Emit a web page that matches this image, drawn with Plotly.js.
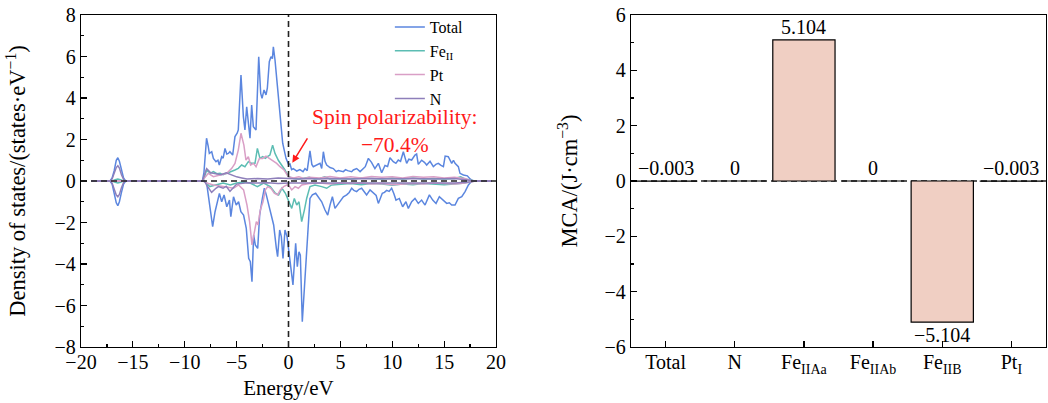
<!DOCTYPE html>
<html>
<head>
<meta charset="utf-8">
<script src="https://cdn.plot.ly/plotly-3.0.1.min.js"></script>
<style>html,body{margin:0;padding:0;background:#fff;}#chart{width:1048px;height:403px;}</style>
</head>
<body>
<div id="chart"></div>
<script>
// ---------- DOS data: [energy (eV), DOS (states/eV)] ----------
const totalUp = [[-19,0],[-17.2,0],[-17.0,0.15],[-16.8,0.5],[-16.6,1.0],[-16.45,1.12],[-16.3,0.95],[-16.1,0.5],[-15.9,0.15],[-15.7,0],
[-8.3,0],[-8.15,0.4],[-7.9,2.06],[-7.75,1.7],[-7.63,1.33],[-7.4,1.41],[-7.24,1.09],[-6.99,0.93],[-6.8,1.0],[-6.67,0.77],[-6.44,1.17],[-6.3,1.1],[-6.12,1.57],[-5.95,1.3],[-5.8,1.33],[-5.65,1.41],[-5.38,1.25],[-5.16,2.14],[-4.95,2.3],[-4.84,2.46],[-4.58,5.11],[-4.35,3.1],[-4.2,2.46],[-4.03,3.58],[-3.87,2.7],[-3.71,2.06],[-3.55,3.66],[-3.39,2.62],[-3.13,2.46],[-2.87,5.99],[-2.68,4.22],[-2.55,3.98],[-2.36,4.39],[-2.17,4.15],[-2.04,4.47],[-1.85,5.75],[-1.69,5.99],[-1.55,5.9],[-1.46,6.47],[-1.3,5.83],[-1.08,4.63],[-0.82,3.02],[-0.56,1.82],[-0.24,1.09],[0.0,0.8],[0.14,0.82],[0.3,0.55],[0.46,0.6],[0.8,0.48],[1.1,0.55],[1.4,0.45],[1.59,0.6],[1.8,0.5],[2.07,1.45],[2.25,0.8],[2.39,0.69],[2.7,0.75],[3.04,0.85],[3.2,0.6],[3.36,1.41],[3.52,0.95],[3.68,0.77],[4.0,0.65],[4.32,0.6],[4.6,0.45],[4.8,0.5],[5.29,0.45],[5.5,0.55],[5.7,0.5],[6.09,0.45],[6.25,0.53],[6.57,0.6],[6.9,0.45],[7.22,0.6],[7.4,0.69],[7.7,1.09],[8.0,0.9],[8.33,0.6],[8.66,0.85],[8.98,0.4],[9.3,0.75],[9.55,0.7],[9.78,1.12],[10.1,0.93],[10.35,0.85],[10.58,1.01],[10.8,0.95],[11.07,1.41],[11.39,0.85],[11.6,1.05],[11.87,1.01],[12.19,1.25],[12.35,1.3],[12.51,0.8],[12.83,1.0],[13.1,0.9],[13.32,0.77],[13.64,0.95],[13.96,0.69],[14.2,0.8],[14.44,0.85],[14.7,0.75],[14.93,0.69],[15.1,1.2],[15.4,1.17],[15.73,0.85],[15.9,1.0],[16.05,0.85],[16.21,0.77],[16.37,0.69],[16.53,0.37],[16.86,0.29],[17.24,0.25],[17.5,0.1],[17.8,0],[19.6,0]];

const totalDown = [[-19,0],[-17.2,0],[-17.0,-0.15],[-16.8,-0.55],[-16.6,-1.05],[-16.45,-1.19],[-16.3,-1.0],[-16.1,-0.55],[-15.9,-0.15],[-15.7,0],
[-8.1,0],[-7.89,-0.1],[-7.63,-1.16],[-7.31,-2.2],[-7.08,-1.48],[-6.85,-1.0],[-6.66,-0.6],[-6.44,-1.0],[-6.21,-0.67],[-5.95,-1.24],[-5.69,-0.92],[-5.56,-1.72],[-5.3,-0.76],[-5.04,-1.16],[-4.81,-1.0],[-4.59,-1.48],[-4.33,-1.64],[-4.07,-2.28],[-3.84,-3.73],[-3.68,-3.89],[-3.52,-4.85],[-3.36,-2.6],[-3.2,-3.08],[-2.97,-3.25],[-2.78,-1.64],[-2.52,-0.84],[-2.33,-0.35],[-2.14,-0.67],[-1.91,-1.16],[-1.69,-1.48],[-1.43,-2.12],[-1.17,-3.25],[-1.05,-3.65],[-0.85,-2.36],[-0.69,-2.68],[-0.53,-3.73],[-0.34,-2.36],[-0.14,-2.68],[0.02,-3.3],[0.24,-4.21],[0.43,-5.01],[0.69,-3.0],[0.85,-4.13],[1.01,-3.41],[1.14,-3.57],[1.33,-6.78],[1.59,-4.37],[1.85,-2.6],[2.07,-0.84],[2.3,-0.67],[2.62,-0.59],[2.87,-0.76],[3.2,-1.0],[3.52,-1.4],[3.78,-1.64],[4.0,-1.16],[4.23,-0.76],[4.48,-1.32],[4.8,-1.08],[5.05,-0.9],[5.29,-0.76],[5.61,-0.67],[5.85,-0.55],[6.09,-0.35],[6.3,-0.45],[6.57,-0.51],[6.8,-0.4],[7.05,-0.35],[7.3,-0.5],[7.53,-0.67],[7.86,-0.43],[8.18,-0.59],[8.45,-0.7],[8.66,-1.08],[9.04,-0.59],[9.25,-0.55],[9.46,-0.45],[9.7,-0.5],[9.94,-0.35],[10.15,-0.6],[10.36,-0.92],[10.68,-0.84],[11.0,-1.24],[11.32,-1.0],[11.55,-1.32],[11.87,-1.0],[12.19,-0.84],[12.51,-1.08],[12.83,-0.92],[13.16,-1.16],[13.35,-0.9],[13.58,-0.67],[13.9,-0.92],[14.22,-1.08],[14.54,-0.76],[14.86,-0.92],[15.25,-1.08],[15.5,-1.05],[15.73,-1.16],[16.05,-1.16],[16.37,-0.84],[16.7,-0.76],[17.02,-0.51],[17.34,-0.19],[17.66,0],[19.6,0]];

const feUp = [[-19,0],[-17.0,0],[-16.7,0.06],[-16.45,0.1],[-16.2,0.06],[-15.9,0],[-8.3,0],[-8.15,0.1],[-7.89,0.53],[-7.57,0.37],[-7.24,0.45],[-6.9,0.35],[-6.6,0.37],[-6.3,0.3],[-5.95,0.37],[-5.47,0.45],[-5.16,0.53],[-4.84,0.61],[-4.52,0.77],[-4.2,0.69],[-3.87,0.93],[-3.55,0.85],[-3.23,0.85],[-3.0,1.57],[-2.75,1.09],[-2.49,1.17],[-2.23,1.09],[-2.04,1.17],[-1.79,1.25],[-1.53,1.73],[-1.3,1.33],[-0.98,1.0],[-0.66,0.77],[-0.34,0.53],[-0.02,0.21],[0.5,0.12],[1.0,0.1],[1.5,0.15],[2.0,0.18],[2.5,0.1],[3.0,0.12],[3.5,0.2],[4,0.1],[5,0.12],[6,0.1],[7,0.15],[8,0.12],[9,0.1],[10,0.14],[11,0.1],[12,0.15],[13,0.1],[14,0.12],[15,0.1],[16,0.12],[16.6,0.2],[17,0.1],[17.6,0.02],[18,0],[19.6,0]];

const feDown = [[-19,0],[-17,0],[-16.7,-0.06],[-16.45,-0.1],[-16.2,-0.06],[-15.9,0],[-8.2,0],[-7.89,-0.1],[-7.6,-0.27],[-6.9,-0.19],[-6.3,-0.1],[-5.6,-0.19],[-5.0,-0.1],[-4.3,-0.05],[-3.7,-0.1],[-3.0,-0.27],[-2.4,-0.1],[-1.75,-0.27],[-1.27,-0.59],[-0.95,-0.67],[-0.63,-0.35],[-0.3,-0.59],[0.0,-0.92],[0.31,-1.32],[0.56,-0.84],[0.79,-1.16],[1.01,-1.0],[1.27,-1.96],[1.53,-1.4],[1.75,-0.84],[2.07,-0.27],[2.55,-0.19],[3.2,-0.27],[3.68,-0.35],[4.16,-0.19],[5,-0.15],[6,-0.12],[7,-0.18],[8,-0.12],[9,-0.15],[10,-0.2],[11,-0.15],[12,-0.18],[13,-0.12],[14,-0.15],[15,-0.18],[16,-0.15],[17,-0.1],[17.6,-0.02],[18,0],[19.6,0]];

const ptUp = [[-19,0],[-8.3,0],[-8.2,0.08],[-7.73,0.37],[-7.24,0.21],[-6.6,0.29],[-5.95,0.37],[-5.47,0.61],[-5.16,0.85],[-4.84,1.49],[-4.58,2.3],[-4.3,1.73],[-4.1,1.01],[-3.87,1.17],[-3.65,0.77],[-3.39,0.85],[-3.13,0.69],[-2.81,1.09],[-2.49,1.09],[-2.17,1.2],[-1.85,1.09],[-1.53,1.01],[-1.14,0.85],[-0.82,0.69],[-0.43,0.53],[-0.02,0.21],[0.5,0.15],[1,0.2],[1.5,0.12],[2,0.18],[3,0.15],[4,0.22],[5,0.15],[6,0.2],[7,0.15],[8,0.22],[9,0.18],[10,0.2],[11,0.15],[12,0.22],[13,0.18],[14,0.2],[15,0.15],[16,0.18],[17,0.12],[17.6,0.02],[18,0],[19.6,0]];

const ptDown = [[-19,0],[-8.2,0],[-7.89,-0.1],[-7.24,-0.19],[-6.3,-0.27],[-5.3,-0.35],[-4.81,-0.19],[-4.33,-0.43],[-4.0,-1.16],[-3.75,-1.96],[-3.52,-3.08],[-3.36,-2.6],[-3.1,-1.96],[-2.94,-2.12],[-2.72,-1.4],[-2.46,-1.0],[-2.23,-0.43],[-2.0,-0.27],[-1.69,-0.35],[-1.37,-0.59],[-1.05,-0.67],[-0.79,-0.43],[-0.47,-0.27],[-0.14,-0.19],[0.1,-0.27],[0.31,-0.43],[0.63,-0.27],[0.95,-0.35],[1.27,-0.19],[2,-0.12],[3,-0.1],[4,-0.15],[5,-0.1],[6,-0.12],[7,-0.1],[8,-0.15],[9,-0.12],[10,-0.18],[11,-0.15],[12,-0.12],[13,-0.15],[14,-0.1],[15,-0.12],[16,-0.15],[17,-0.1],[17.6,-0.02],[18,0],[19.6,0]];

const nUp = [[-19,0],[-17.2,0],[-17.0,0.1],[-16.8,0.35],[-16.6,0.65],[-16.45,0.74],[-16.3,0.62],[-16.1,0.3],[-15.9,0.08],[-15.7,0],[-8.3,0],[-8.1,0.3],[-7.89,0.6],[-7.5,0.4],[-7.0,0.35],[-6.5,0.3],[-6.0,0.4],[-5.5,0.3],[-5.0,0.2],[-4.5,0.15],[-4,0.1],[-3,0.12],[-2,0.1],[-1,0.15],[0,0.12],[1,0.1],[2,0.12],[3,0.1],[4,0.12],[6,0.1],[8,0.12],[10,0.1],[12,0.12],[14,0.1],[16,0.12],[17.5,0.05],[18,0],[19.6,0]];

const nDown = [[-19,0],[-17.2,0],[-17.0,-0.1],[-16.8,-0.38],[-16.6,-0.68],[-16.45,-0.76],[-16.3,-0.65],[-16.1,-0.32],[-15.9,-0.08],[-15.7,0],[-8.1,0],[-7.89,-0.2],[-7.41,-0.55],[-7.0,-0.35],[-6.75,-0.27],[-6.3,-0.35],[-6.0,-0.25],[-5.64,-0.5],[-5.3,-0.3],[-5.0,-0.15],[-4,-0.08],[-3,-0.1],[-2,-0.08],[-1,-0.12],[0,-0.1],[1,-0.1],[2,-0.08],[4,-0.1],[6,-0.08],[8,-0.1],[10,-0.08],[12,-0.1],[14,-0.08],[16,-0.1],[17.5,-0.05],[18,0],[19.6,0]];

// ---------- MCA data ----------
const mcaCategories = ["Total", "N", "Fe<sub>IIAa</sub>", "Fe<sub>IIAb</sub>", "Fe<sub>IIB</sub>", "Pt<sub>I</sub>"];
const mcaValues = [-0.003, 0, 5.104, 0, -5.104, -0.003];
const mcaLabels = ["\u22120.003", "0", "5.104", "0", "\u22125.104", "\u22120.003"];

// ---------- styles ----------
const FONT = "Liberation Serif, Times New Roman, serif";
const colors = {total: "#5b86df", fe: "#5cbdb3", pt: "#d99fc6", n: "#8e7fba"};

function line(series, name, color, show) {
  return {
    x: series.map(p => p[0]), y: series.map(p => p[1]),
    type: "scatter", mode: "lines", name: name, legendgroup: name,
    showlegend: show, line: {color: color, width: 1.5},
    xaxis: "x", yaxis: "y", hoverinfo: "skip"
  };
}

const traces = [
  line(totalUp, "Total", colors.total, true),
  line(totalDown, "Total", colors.total, false),
  line(feUp, "Fe<sub>II</sub>", colors.fe, true),
  line(feDown, "Fe<sub>II</sub>", colors.fe, false),
  line(ptUp, "Pt", colors.pt, true),
  line(ptDown, "Pt", colors.pt, false),
  line(nUp, "N", colors.n, true),
  line(nDown, "N", colors.n, false),
  {
    x: mcaCategories.map((c, i) => i), y: mcaValues, type: "bar",
    xaxis: "x2", yaxis: "y2", showlegend: false, width: 0.9,
    marker: {color: "#f0cfc3", line: {color: "#000", width: 1.2}}, hoverinfo: "skip"
  }
];

const axisCommon = {
  showline: true, linecolor: "#000", linewidth: 1.3, mirror: true,
  ticks: "inside", ticklen: 6, tickwidth: 1.2, tickcolor: "#000",
  showgrid: false, zeroline: false, automargin: false,
  tickfont: {family: FONT, size: 20, color: "#000"}
};

const annotations = mcaValues.map((v, i) => ({
  x: i, y: v > 0.5 ? v : (v < -0.5 ? v : 0), xref: "x2", yref: "y2",
  text: mcaLabels[i], showarrow: false,
  yanchor: v < -0.5 ? "top" : "bottom",
  font: {family: FONT, size: 20, color: "#000"}
}));
annotations.push({
  x: 10.2, y: 2.4, xref: "x", yref: "y",
  text: "Spin polarizability:<br>\u221270.4%", showarrow: false, align: "center",
  font: {family: FONT, size: 21.5, color: "#ff1a1a"}
});
annotations.push({
  x: 0.37, y: 0.88, xref: "x", yref: "y", ax: 1.91, ay: 2.13, axref: "x", ayref: "y",
  text: "", showarrow: true, arrowhead: 2, arrowsize: 1, arrowwidth: 1.5, arrowcolor: "#ff1a1a"
});

const layout = {
  width: 1048, height: 403,
  margin: {l: 0, r: 0, t: 0, b: 0},
  paper_bgcolor: "#fff", plot_bgcolor: "#fff",
  font: {family: FONT, size: 20, color: "#000"},
  xaxis: Object.assign({}, axisCommon, {
    anchor: "y",
    domain: [81/1048, 496/1048], range: [-20, 20], dtick: 5, tick0: 0,
    minor: {dtick: 2.5, ticks: "inside", ticklen: 3, tickcolor: "#000"},
    ticklabelstandoff: -3,
    title: {text: "Energy/eV", font: {family: FONT, size: 21}, standoff: 8}
  }),
  yaxis: Object.assign({}, axisCommon, {
    anchor: "x",
    domain: [56/403, 388/403], range: [-8, 8], dtick: 2, tick0: 0,
    minor: {dtick: 1, ticks: "inside", ticklen: 3, tickcolor: "#000"},
    title: {text: "Density of states/(states\u00b7eV<sup>\u22121</sup>)", font: {family: FONT, size: 22.5}, standoff: 22}
  }),
  xaxis2: Object.assign({}, axisCommon, {
    anchor: "y2",
    domain: [631/1048, 1046/1048], range: [-0.5, 5.5],
    ticklabelstandoff: -3,
    tickvals: mcaCategories.map((c, i) => i), ticktext: mcaCategories
  }),
  yaxis2: Object.assign({}, axisCommon, {
    anchor: "x2",
    domain: [56/403, 388/403], range: [-6, 6], dtick: 2, tick0: 0,
    minor: {dtick: 1, ticks: "inside", ticklen: 3, tickcolor: "#000"},
    title: {text: "MCA/(J\u00b7cm<sup>\u22123</sup>)", font: {family: FONT, size: 22.5}, standoff: 20}
  }),
  legend: {
    x: 0.372, y: 0.975, xanchor: "left", yanchor: "top",
    bgcolor: "rgba(0,0,0,0)", font: {family: FONT, size: 16}, tracegroupgap: 0
  },
  shapes: [
    {type: "line", xref: "x domain", yref: "y", x0: 0, x1: 1, y0: 0, y1: 0, layer: "above",
     line: {color: "#222", width: 1.6, dash: "6px,4px"}},
    {type: "line", xref: "x", yref: "y domain", x0: 0, x1: 0, y0: 0, y1: 1, layer: "above",
     line: {color: "#222", width: 1.6, dash: "6px,4px"}},
    {type: "line", xref: "x2 domain", yref: "y2", x0: 0, x1: 1, y0: 0, y1: 0, layer: "below",
     line: {color: "#222", width: 1.6, dash: "6px,4px"}}
  ],
  annotations: annotations
};

Plotly.newPlot("chart", traces, layout, {staticPlot: true, displayModeBar: false});
</script>
</body>
</html>
